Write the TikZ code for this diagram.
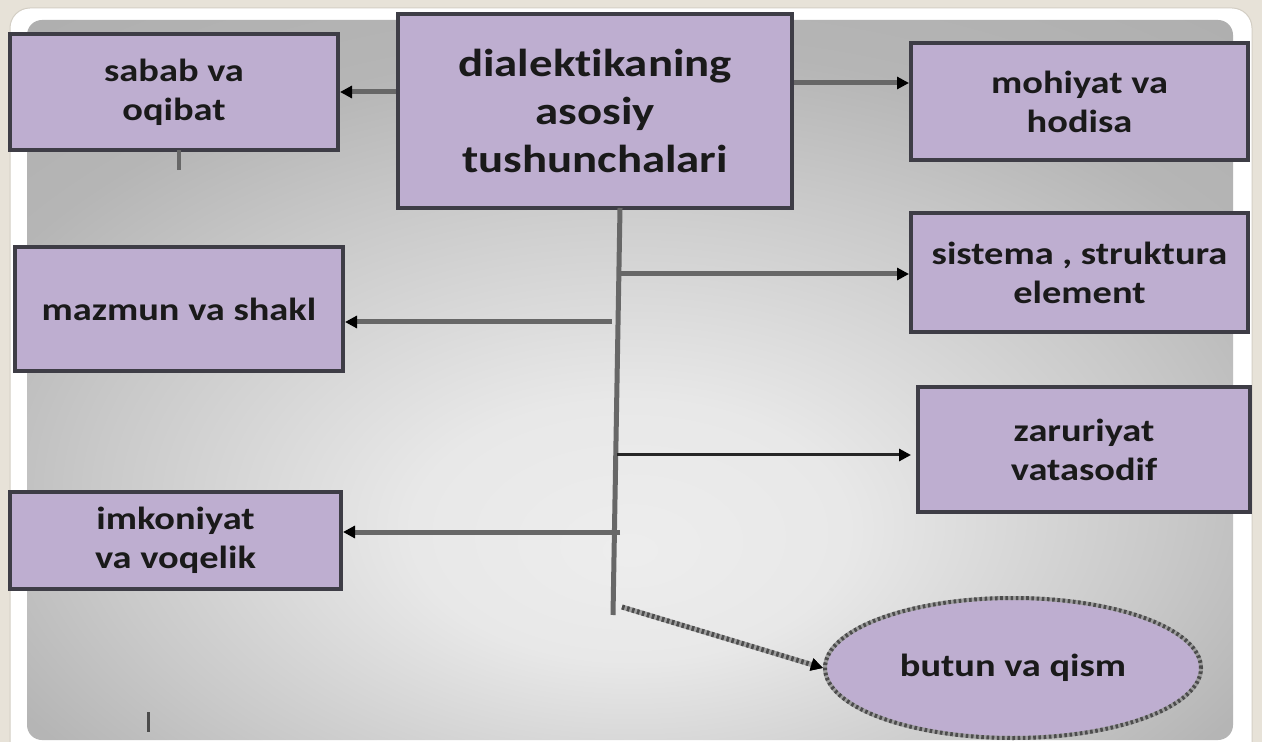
\documentclass[tikz,border=0pt]{standalone}
\usepackage{fontspec}
\setmainfont{Carlito}[FakeStretch=1.2, Ligatures=NoCommon]
\usetikzlibrary{arrows.meta,shapes.geometric}
\definecolor{beige}{HTML}{E7E2D8}
\definecolor{frameline}{HTML}{D3CEC4}
\definecolor{boxfill}{HTML}{BEAED0}
\definecolor{boxline}{HTML}{3E3D46}
\definecolor{connline}{HTML}{676767}
\definecolor{txt}{HTML}{1A1A1A}
\pgfdeclareradialshading{bgshade}{\pgfpoint{0bp}{-12bp}}{rgb(0bp)=(.93,.93,.93); rgb(9bp)=(.91,.91,.91); rgb(22bp)=(.79,.79,.79); rgb(30bp)=(.71,.71,.71); rgb(45bp)=(.67,.67,.67); rgb(70bp)=(.67,.67,.67)}
\tikzset{
  box/.style={draw=boxline, line width=2pt, fill=boxfill, text=txt, align=center, inner sep=0pt,
    font=\bfseries\fontsize{16}{19.5}\selectfont},
  bigbox/.style={box, font=\bfseries\fontsize{19.5}{24}\selectfont},
  conn/.style={draw=connline, line width=2.5pt, -{Triangle[length=6pt,width=6pt,color=black]}},
  thinconn/.style={draw=black!85, line width=1.5pt, -{Triangle[length=6pt,width=6pt,color=black]}},
  trunk/.style={draw=connline, line width=2.5pt},
  striped/.style={draw=gray!75, line width=2.5pt, postaction={draw=black!70, dash pattern=on 1.3pt off 1.3pt}},
}
\begin{document}
\begin{tikzpicture}[x=0.5pt, y=-0.5pt]
\useasboundingbox (0,0) rectangle (1262,742);
% background
\fill[beige] (0,0) rectangle (1262,742);
\filldraw[fill=white, draw=frameline, line width=0.5pt, rounded corners=10pt] (10,8) rectangle (1252,770);
\shade[shading=bgshade, rounded corners=7.5pt] (27,20) rectangle (1233,740);
% nodes
\node[bigbox, minimum width=197pt, minimum height=97pt] (center) at (595,111) {dialektikaning\\asosiy\\tushunchalari};
\node[box, minimum width=164pt, minimum height=58pt] (sabab) at (174,92) {sabab va\\oqibat};
\node[box, minimum width=168.5pt, minimum height=58.5pt] (mohiyat) at (1079.5,101.5) {mohiyat va\\hodisa};
\node[box, minimum width=168.5pt, minimum height=59.5pt] (sistema) at (1079.5,272.5) {sistema , struktura\\element};
\node[box, minimum width=164pt, minimum height=62pt] (mazmun) at (179,309) {mazmun va shakl};
\node[box, minimum width=166pt, minimum height=62.5pt] (zaruriyat) at (1084,449.5) {zaruriyat\\vatasodif};
\node[box, minimum width=165.5pt, minimum height=48.5pt] (imkoniyat) at (175.5,540.5) {imkoniyat\\va voqelik};
\node[ellipse, fill=boxfill, text=txt, inner sep=0pt, minimum width=188pt, minimum height=70pt,
  font=\bfseries\fontsize{16}{19.5}\selectfont, striped, line width=2pt] (ell) at (1013,668) {butun va qism};
% coordinates
\coordinate (m83) at (0,83);
\coordinate (vtop) at (620,208);
\coordinate (vbot) at (613,615);
\coordinate (bs) at (619,274);
\coordinate (bm) at (612,322);
\coordinate (bz) at (617,455);
\coordinate (bzend) at (911,455);
\coordinate (bi) at (620,532);
\coordinate (bd) at (622,607);
\coordinate (st1) at (179,150);
\coordinate (st2) at (179,170);
\coordinate (mk1) at (148,712);
\coordinate (mk2) at (148,732);
% connectors
\draw[conn] (center.west |- sabab.east) -- (sabab.east);
\draw[conn] (center.east |- m83) -- (mohiyat.west |- m83);
\draw[trunk] (vtop) -- (vbot);
\draw[conn] (bs) -- (sistema.west |- bs);
\draw[conn] (bm) -- (mazmun.east |- bm);
\draw[thinconn] (bz) -- (bzend);
\draw[conn] (bi) -- (imkoniyat.east |- bi);
\draw[striped, -{Triangle[length=6pt,width=6pt,color=black]}] (bd) -- (ell.west);
\draw[trunk, line width=2pt] (st1) -- (st2);
\draw[draw=black!70, line width=1.5pt] (mk1) -- (mk2);
\end{tikzpicture}
\end{document}
